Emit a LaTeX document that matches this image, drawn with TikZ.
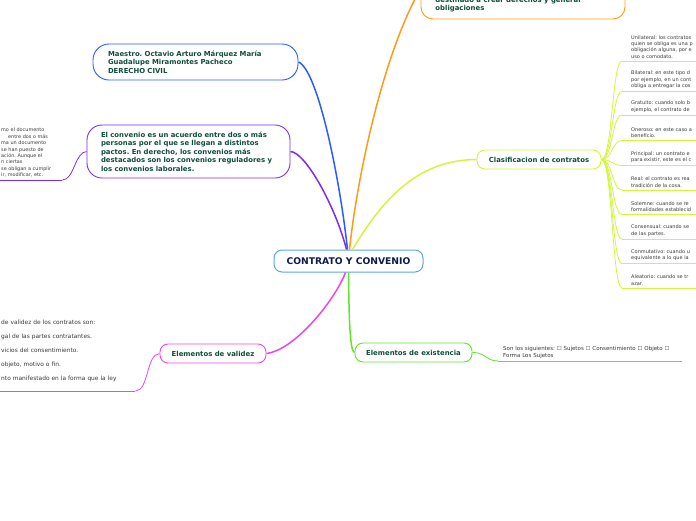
\documentclass[tikz,border=0pt]{standalone}
\usepackage{fontspec}
\setmainfont{DejaVu Sans}
\frenchspacing
\definecolor{cblue}{HTML}{2A5CFF}
\definecolor{cpurple}{HTML}{7B2CF0}
\definecolor{corange}{HTML}{FF9A1A}
\definecolor{cyellow}{HTML}{D2F53C}
\definecolor{cmag}{HTML}{EE44EE}
\definecolor{cgreen}{HTML}{5CE62E}
\definecolor{ccenter}{HTML}{5AA8DC}
\definecolor{nodetext}{HTML}{0F4D3B}
\definecolor{navytext}{HTML}{0D1B4F}
\definecolor{smalltext}{HTML}{3A3A3A}
\begin{document}
\begin{tikzpicture}[x=1pt,y=-1pt,
  bx/.style={draw, line width=0.9pt, font=\fontsize{6.9}{8.6}\selectfont\bfseries, text=nodetext, align=left, inner sep=0pt},
  small/.style={font=\fontsize{5}{6.4}\selectfont, text=smalltext, align=left, inner xsep=1pt, inner ysep=2.5pt},
  item/.style={small, anchor=south west, text width=65pt, inner xsep=9pt},
  fan/.style={cyellow, line width=0.8pt},
  uline/.style={line width=1pt}]
\useasboundingbox (0,0) rectangle (696,520);
\clip (0,0) rectangle (696,520);

% central
\node[draw=ccenter, rounded corners=8pt, line width=1pt, minimum width=149pt, minimum height=22pt,
  font=\fontsize{9.2}{10}\selectfont\bfseries, text=navytext] (c) at (348.5,261) {CONTRATO Y CONVENIO};

% top orange
\node[draw=corange, rounded corners=12pt, line width=0.9pt, minimum width=204pt, minimum height=60pt] (def) at (523,-11) {};
\node[bx, draw=none, anchor=north west] (deftext) at (435,-3.5) {destinado a crear derechos y generar\\obligaciones};

% blue
\node[bx, draw=cblue, rounded corners=16pt, minimum width=205pt, minimum height=36pt, text width=175pt] (prof) at (195.5,62)
  {Maestro. Octavio Arturo Márquez María\\Guadalupe Miramontes Pacheco\\DERECHO CIVIL};

% purple
\node[bx, draw=cpurple, rounded corners=15pt, minimum width=203pt, minimum height=53pt, text width=175pt] (conv) at (188.5,151.5)
  {El convenio es un acuerdo entre dos o más\\personas por el que se llegan a distintos\\pactos. En derecho, los convenios más\\destacados son los convenios reguladores y\\los convenios laborales.};
\node[small, font=\fontsize{4.9}{6.4}\selectfont, anchor=south west, text width=60pt] (ctext) at (0,180)
  {mo el documento\\\hspace*{7pt}entre dos o más\\ma un documento\\se han puesto de\\ación. Aunque el\\n ciertas\\se obligan a cumplir\\ir, modificar, etc.};
\draw[cpurple, uline] (ctext.south west) -- (ctext.south east);
\draw[cpurple, line width=0.8pt] (conv.west) .. controls (75,152) and (74,180) .. (ctext.south east);

% clasificacion
\node[bx, draw=cyellow, rounded corners=8pt, minimum width=124pt, minimum height=19pt] (clas) at (539,159.5) {Clasificacion de contratos};

\node[item] (i1) at (622,61) {Unilateral: los contratos\\quien se obliga es una p\\obligación alguna, por e\\uso o comodato.};
\node[item] (i2) at (622,91.5) {Bilateral: en este tipo d\\por ejemplo, en un cont\\obliga a entregar la cos};
\node[item] (i3) at (622,115) {Gratuito: cuando solo b\\ejemplo, el contrato de};
\node[item] (i4) at (622,140.5) {Oneroso: en este caso a\\beneficio.};
\node[item] (i5) at (622,165.5) {Principal: un contrato e\\para existir, este es el c};
\node[item] (i6) at (622,190) {Real: el contrato es rea\\tradición de la cosa.};
\node[item] (i7) at (622,214.5) {Solemne: cuando se re\\formalidades establecid};
\node[item] (i8) at (622,239) {Consensual: cuando se\\de las partes.};
\node[item] (i9) at (622,263.5) {Conmutativo: cuando u\\equivalente a lo que la};
\node[item] (i10) at (622,288) {Aleatorio: cuando se tr\\azar.};
\foreach \i in {1,...,10}{
  \draw[cyellow, uline] (i\i.south west) -- (i\i.south east);
  \draw[fan] (clas.east) .. controls +(11,0) and +(-10,0) .. (i\i.south west);
}

% validez
\node[bx, draw=cmag, rounded corners=8pt, minimum width=106pt, minimum height=19pt] (valid) at (213,353.5) {Elementos de validez};
\node[small, font=\fontsize{5.9}{14}\selectfont, anchor=south west, text width=133pt, inner ysep=9pt] (vtext) at (0,391)
  {de validez de los contratos son:\\gal de las partes contratantes.\\vicios del consentimiento.\\objeto, motivo o fin.\\nto manifestado en la forma que la ley};
\draw[cmag, uline] (vtext.south west) -- (vtext.south east);
\draw[cmag, line width=0.8pt] (valid.west) .. controls (146,354) and (149,391) .. (vtext.south east);

% existencia
\node[bx, draw=cgreen, rounded corners=8pt, minimum width=117pt, minimum height=19pt] (exist) at (413.5,352.5) {Elementos de existencia};
\node[small, font=\fontsize{5.5}{7}\selectfont, anchor=south west, text width=174pt, inner xsep=5pt, inner ysep=2.5pt] (etext) at (498,361)
  {Son los siguientes: ☐ Sujetos ☐ Consentimiento ☐ Objeto ☐\\Forma Los Sujetos};
\draw[cgreen, uline] (etext.south west) -- (etext.south east);
\draw[cgreen, line width=0.8pt] (exist.east) .. controls (485,352) and (486,361) .. (etext.south west);

% main connectors
\draw[corange, line width=1.5pt] ([xshift=1pt]c.north) .. controls (358,170) and (385,50) .. (def.west);
\draw[cblue, line width=1.5pt] (prof.east) .. controls (318,70) and (340,180) .. ([xshift=-1pt]c.north);
\draw[cpurple, line width=1.5pt] (conv.east) .. controls (305,152) and (335,205) .. ([xshift=-2pt]c.north);
\draw[cyellow, line width=1.5pt] ([xshift=4pt]c.north) .. controls (385,195) and (420,160) .. (clas.west);
\draw[cmag, line width=1.5pt] ([xshift=-3pt]c.south) .. controls (335,300) and (295,350) .. (valid.east);
\draw[cgreen, line width=1.5pt] (c.south) .. controls (349,320) and (350,352) .. (exist.west);
\end{tikzpicture}
\end{document}
